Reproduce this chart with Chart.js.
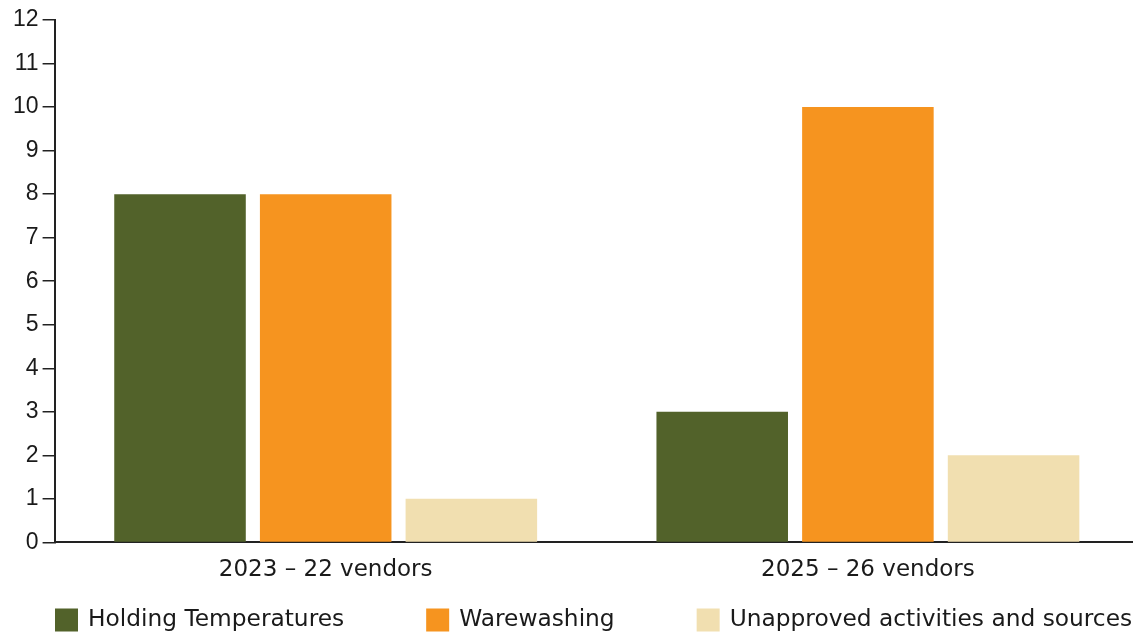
<!DOCTYPE html>
<html>
<head>
<meta charset="utf-8">
<script src="https://cdn.jsdelivr.net/npm/chart.js@4"></script>
<style>
    html, body { margin: 0; background: #ffffff; overflow: hidden; }
    #chart { display: block; }
</style>
</head>
<body>
<!-- canvas runs a few px past the window so the x axis reaches the right edge like the original -->
<canvas id="chart" width="1139" height="633"></canvas>
<script>
const categories = ['2023 – 22 vendors', '2025 – 26 vendors'];
const seriesLabels = ['Holding Temperatures', 'Warewashing', 'Unapproved activities and sources'];
const holdingTemperatures = [8, 3];
const warewashing = [8, 10];
const unapprovedSources = [1, 2];

const chartColors = {
    holding: '#52622a',
    warewashing: '#f6941f',
    unapproved: '#f1dfb0',
    axis: '#222222',
    text: '#1a1a1a',
};

const labelFont = { family: '"DejaVu Sans", sans-serif', size: 23 };
const legendFont = { family: '"DejaVu Sans", sans-serif', size: 23.3 };
const tickFont = { family: '"Liberation Sans", Arial, sans-serif', size: 23 };

// simple legend under the axis, drawn on the canvas
const bottomLegend = {
    id: 'bottomLegend',
    afterDraw(chart) {
        const { ctx } = chart;
        const boxSize = 23;
        const boxGap = 10;
        const itemGap = 82;
        const y = chart.height - 13;
        let x = 55;

        ctx.save();
        ctx.font = `${legendFont.size}px ${legendFont.family}`;
        ctx.textBaseline = 'middle';
        ctx.textAlign = 'left';
        chart.data.datasets.forEach((dataset) => {
            ctx.fillStyle = dataset.backgroundColor;
            ctx.fillRect(x, y - boxSize / 2, boxSize, boxSize);
            ctx.fillStyle = chartColors.text;
            ctx.fillText(dataset.label, x + boxSize + boxGap, y);
            x += boxSize + boxGap + ctx.measureText(dataset.label).width + itemGap;
        });
        ctx.restore();
    },
};

new Chart(document.getElementById('chart'), {
    type: 'bar',
    data: {
        labels: categories,
        datasets: [
            { label: seriesLabels[0], data: holdingTemperatures, backgroundColor: chartColors.holding },
            { label: seriesLabels[1], data: warewashing, backgroundColor: chartColors.warewashing },
            { label: seriesLabels[2], data: unapprovedSources, backgroundColor: chartColors.unapproved },
        ],
    },
    options: {
        responsive: false,
        animation: false,
        categoryPercentage: 0.806,
        barPercentage: 0.903,
        layout: {
            padding: { left: 9, top: 20, right: 0, bottom: 35 },
        },
        scales: {
            x: {
                grid: { display: false, drawTicks: false },
                border: { color: chartColors.axis, width: 2 },
                ticks: {
                    color: chartColors.text,
                    font: labelFont,
                    padding: 14,
                },
            },
            y: {
                min: 0,
                max: 12,
                ticks: {
                    stepSize: 1,
                    color: chartColors.text,
                    font: tickFont,
                    padding: 4,
                },
                grid: {
                    drawOnChartArea: false,
                    tickLength: 12,
                    color: chartColors.axis,
                    lineWidth: 1.5,
                },
                border: { color: chartColors.axis, width: 2 },
            },
        },
        plugins: {
            legend: { display: false },
            tooltip: { enabled: false },
        },
    },
    plugins: [bottomLegend],
});
</script>
</body>
</html>
